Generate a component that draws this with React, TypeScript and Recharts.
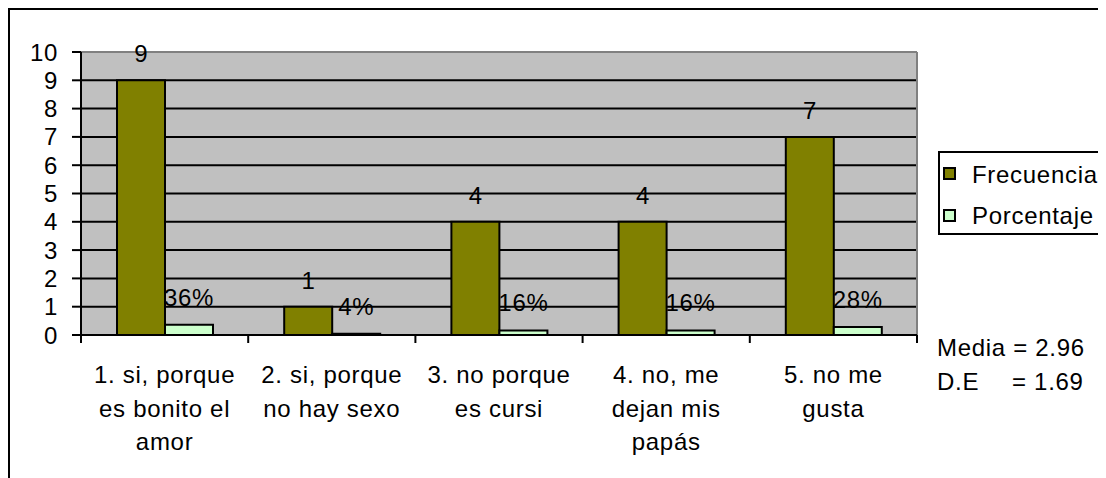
import {
  BarChart,
  Bar,
  XAxis,
  YAxis,
  CartesianGrid,
  LabelList,
  Legend,
  Customized,
} from "recharts"

// ====== DATA ======
const categories = [
  "1. si, porque\nes bonito el\namor",
  "2. si, porque\nno hay sexo",
  "3. no porque\nes cursi",
  "4. no, me\ndejan mis\npapás",
  "5. no me\ngusta",
]
const frecuencia = [9, 1, 4, 4, 7]
const porcentaje = [0.36, 0.04, 0.16, 0.16, 0.28]
const yTicks = [0, 1, 2, 3, 4, 5, 6, 7, 8, 9, 10]
const seriesNames = ["Frecuencia", "Porcentaje"]
const seriesColors = ["#808000", "#ccffcc"]
const statsLabels = ["Media", "D.E"]
const statsValues = ["= 2.96", "= 1.69"]

const chartData = categories.map((c, i) => ({
  name: c,
  frecuencia: frecuencia[i],
  porcentaje: porcentaje[i],
}))

// ====== LAYOUT ======
const W = 1096
const H = 468
const PLOT = { left: 71, top: 42, width: 836, height: 283 }
const FONT = "'Liberation Sans', Arial, sans-serif"
const FS = 24
const LS = 0.7 // texto del original sale un poco estirado

function XTick(props: any) {
  const { x, y, payload, index } = props
  const band = PLOT.width / categories.length
  const half = payload?.offset || band / 2
  const lines = String(payload.value).split("\n")
  return (
    <g>
      <line x1={x - half} y1={y} x2={x - half} y2={y + 8} stroke="#000" strokeWidth={2} />
      {index === categories.length - 1 && (
        <line x1={x + half} y1={y} x2={x + half} y2={y + 8} stroke="#000" strokeWidth={2} />
      )}
      <text textAnchor="middle" fontFamily={FONT} fontSize={FS} letterSpacing={LS} fill="#000">
        {lines.map((l, i) => (
          <tspan key={i} x={x} y={y + 48 + i * 33.5}>
            {l}
          </tspan>
        ))}
      </text>
    </g>
  )
}

function PlotExtras() {
  const right = PLOT.left + PLOT.width
  const bottom = PLOT.top + PLOT.height
  return (
    <g>
      <line x1={PLOT.left} y1={PLOT.top} x2={right} y2={PLOT.top} stroke="#808080" strokeWidth={2} />
      <line x1={right} y1={PLOT.top} x2={right} y2={bottom} stroke="#808080" strokeWidth={2} />
      {statsLabels.map((lab, i) => (
        <g key={lab}>
          <text x={927} y={346 + i * 34} fontFamily={FONT} fontSize={FS} letterSpacing={LS} fill="#000">
            {i === 0 ? `${lab} ${statsValues[i]}` : lab}
          </text>
          {i > 0 && (
            <text x={1002} y={346 + i * 34} fontFamily={FONT} fontSize={FS} letterSpacing={LS} fill="#000">
              {statsValues[i]}
            </text>
          )}
        </g>
      ))}
    </g>
  )
}

function LegendBox() {
  return (
    <div
      style={{
        boxSizing: "border-box",
        width: 167,
        height: 84,
        border: "2px solid #000",
        background: "#fff",
        position: "relative",
        fontFamily: FONT,
        fontSize: FS,
        letterSpacing: LS,
        lineHeight: `${FS}px`,
      }}
    >
      {seriesNames.map((n, i) => (
        <div key={n}>
          <div
            style={{
              position: "absolute",
              left: 3,
              top: 14 + i * 42,
              width: 13,
              height: 13,
              boxSizing: "border-box",
              border: "2px solid #000",
              background: seriesColors[i],
            }}
          />
          <div style={{ position: "absolute", left: 32, top: 9.5 + i * 41, whiteSpace: "nowrap" }}>{n}</div>
        </div>
      ))}
    </div>
  )
}

export default function App() {
  return (
    <div
      style={{
        width: W,
        height: H,
        borderLeft: "2px solid #000",
        borderTop: "2px solid #000",
        background: "#fff",
      }}
    >
      <BarChart
        width={W}
        height={H}
        data={chartData}
        margin={{ top: PLOT.top, left: 11, right: W - PLOT.left - PLOT.width, bottom: 23 }}
        barGap={0}
        barSize={48}
      >
        <CartesianGrid vertical={false} fill="#c0c0c0" fillOpacity={1} stroke="#000" strokeWidth={2} />
        <XAxis
          dataKey="name"
          interval={0}
          height={120}
          axisLine={{ stroke: "#000", strokeWidth: 2 }}
          tickLine={false}
          tickSize={0}
          tickMargin={0}
          tick={<XTick />}
        />
        <YAxis
          domain={[0, 10]}
          ticks={yTicks}
          interval={0}
          width={60}
          axisLine={{ stroke: "#000", strokeWidth: 2 }}
          tickLine={{ stroke: "#000", strokeWidth: 2 }}
          tickSize={9}
          tickMargin={14}
          tick={{ fontFamily: FONT, fontSize: FS, fill: "#000", letterSpacing: LS }}
        />
        <Customized component={PlotExtras} />
        <Legend
          layout="horizontal"
          verticalAlign="middle"
          align="center"
          wrapperStyle={{ left: 928, top: 141, width: 167, height: 84 }}
          content={() => <LegendBox />}
        />
        <Bar dataKey="frecuencia" name={seriesNames[0]} fill={seriesColors[0]} stroke="#000" strokeWidth={2} isAnimationActive={false}>
          <LabelList dataKey="frecuencia" position="top" offset={18} fontFamily={FONT} fontSize={FS} fill="#000" />
        </Bar>
        <Bar dataKey="porcentaje" name={seriesNames[1]} fill={seriesColors[1]} stroke="#000" strokeWidth={2} isAnimationActive={false}>
          <LabelList
            dataKey="porcentaje"
            position="top"
            offset={19}
            fontFamily={FONT}
            fontSize={FS}
            letterSpacing={LS}
            fill="#000"
            formatter={(v: any) => `${Math.round(v * 100)}%`}
          />
        </Bar>
      </BarChart>
    </div>
  )
}
